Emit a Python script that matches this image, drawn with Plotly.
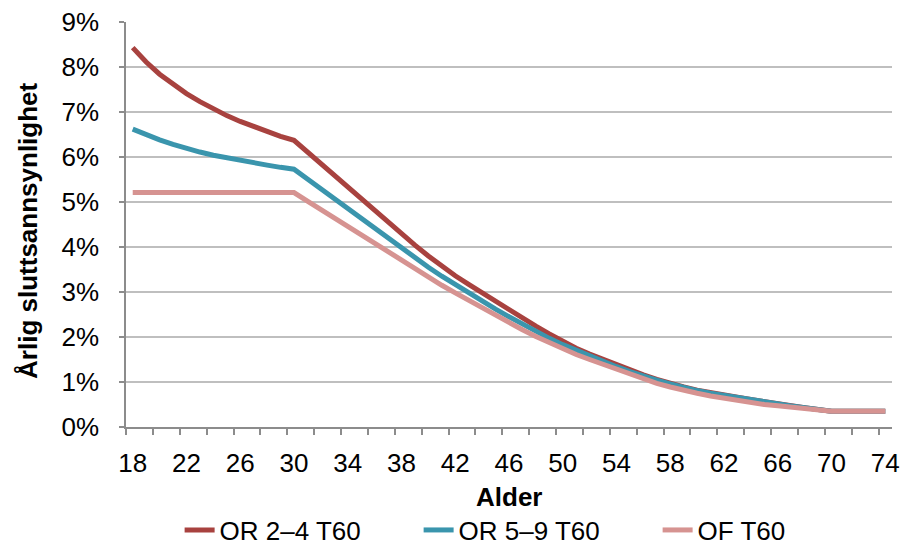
import plotly.graph_objects as go

ages = list(range(18, 75))

or24 = [8.43, 8.11, 7.84, 7.61, 7.41, 7.23, 7.07, 6.92, 6.79, 6.67, 6.56, 6.46, 6.37,
        6.11, 5.85, 5.59, 5.33, 5.07, 4.80, 4.54, 4.29, 4.04, 3.80, 3.57, 3.36, 3.17,
        2.98, 2.79, 2.60, 2.42, 2.24, 2.07, 1.90, 1.75, 1.62, 1.50, 1.38, 1.27, 1.16,
        1.06, 0.97, 0.89, 0.82, 0.76, 0.71, 0.66, 0.61, 0.56, 0.51, 0.47, 0.43, 0.39,
        0.35, 0.35, 0.35, 0.35, 0.35]

or59 = [6.62, 6.49, 6.38, 6.28, 6.19, 6.11, 6.04, 5.98, 5.92, 5.87, 5.82, 5.77, 5.73,
        5.51, 5.29, 5.07, 4.85, 4.63, 4.41, 4.19, 3.97, 3.76, 3.55, 3.35, 3.16, 2.98,
        2.80, 2.62, 2.45, 2.28, 2.12, 1.97, 1.83, 1.70, 1.58, 1.46, 1.34, 1.23, 1.13,
        1.04, 0.96, 0.88, 0.81, 0.75, 0.70, 0.65, 0.60, 0.55, 0.51, 0.47, 0.43, 0.39,
        0.35, 0.35, 0.35, 0.35, 0.35]

of60 = [5.21] * 13 + [5.02, 4.83, 4.64, 4.45, 4.26, 4.07, 3.88, 3.69, 3.51, 3.33, 3.15,
                      2.98, 2.81, 2.64, 2.48, 2.32, 2.16, 2.01, 1.87, 1.74, 1.61, 1.50,
                      1.39, 1.28, 1.17, 1.07, 0.97, 0.89, 0.81, 0.75, 0.69, 0.64, 0.59,
                      0.54, 0.50, 0.47, 0.44, 0.40, 0.37, 0.35, 0.35, 0.35, 0.35, 0.35]

names = ["OR 2–4 T60", "OR 5–9 T60", "OF T60"]
colors = ["#A8423F", "#3A95AD", "#D69391"]
series = [or24, or59, of60]

x_labels = list(range(18, 75, 4))
y_ticks = list(range(0, 10))
y_labels = [f"{v}%" for v in y_ticks]
x_title = "Alder"
y_title = "Årlig sluttsannsynlighet"

fig = go.Figure()
for name, col, vals in zip(names, colors, series):
    fig.add_trace(go.Scatter(x=ages, y=vals, mode="lines", name=name,
                             line=dict(color=col, width=5)))

font = "Liberation Sans, Arial, sans-serif"
FS = 26
fig.update_layout(
    width=903, height=547,
    margin=dict(l=126, r=11, t=22, b=120, autoexpand=False),
    paper_bgcolor="white", plot_bgcolor="white",
    font=dict(family=font, size=FS, color="black"),
    showlegend=True,
    legend=dict(orientation="h", xref="paper", x=0.07, xanchor="left",
                yref="container", y=0.031, yanchor="middle",
                font=dict(size=FS), entrywidth=194, traceorder="normal"),
    xaxis=dict(range=[17.5, 74.5], tickvals=x_labels, ticktext=[str(v) for v in x_labels],
               ticks="", showgrid=False, showline=True, linecolor="#8C8C8C", linewidth=1.5,
               zeroline=False, ticklabelstandoff=12, automargin=False,
               minor=dict(tick0=17.5, dtick=2, ticks="outside", ticklen=6,
                          tickcolor="#8C8C8C", tickwidth=1.5, showgrid=False),
               tickfont=dict(size=FS)),
    yaxis=dict(range=[0, 9], tickvals=y_ticks, ticktext=y_labels,
               ticks="outside", ticklen=5, tickcolor="#8C8C8C", tickwidth=1.5,
               showgrid=True, gridcolor="#BFBFBF", gridwidth=1.5,
               showline=True, linecolor="#8C8C8C", linewidth=1.5, zeroline=False,
               ticklabelstandoff=15, automargin=False,
               tickfont=dict(size=FS)),
    annotations=[
        dict(text=f"<b>{x_title}</b>", xref="paper", yref="paper", x=0.5, y=-0.173,
             xanchor="center", yanchor="middle", showarrow=False, font=dict(size=FS)),
        dict(text=f"<b>{y_title}</b>", xref="paper", yref="paper", x=-0.128, y=0.484,
             xanchor="center", yanchor="middle", textangle=-90, showarrow=False,
             font=dict(size=FS)),
    ],
)

fig.write_html("out.html")
